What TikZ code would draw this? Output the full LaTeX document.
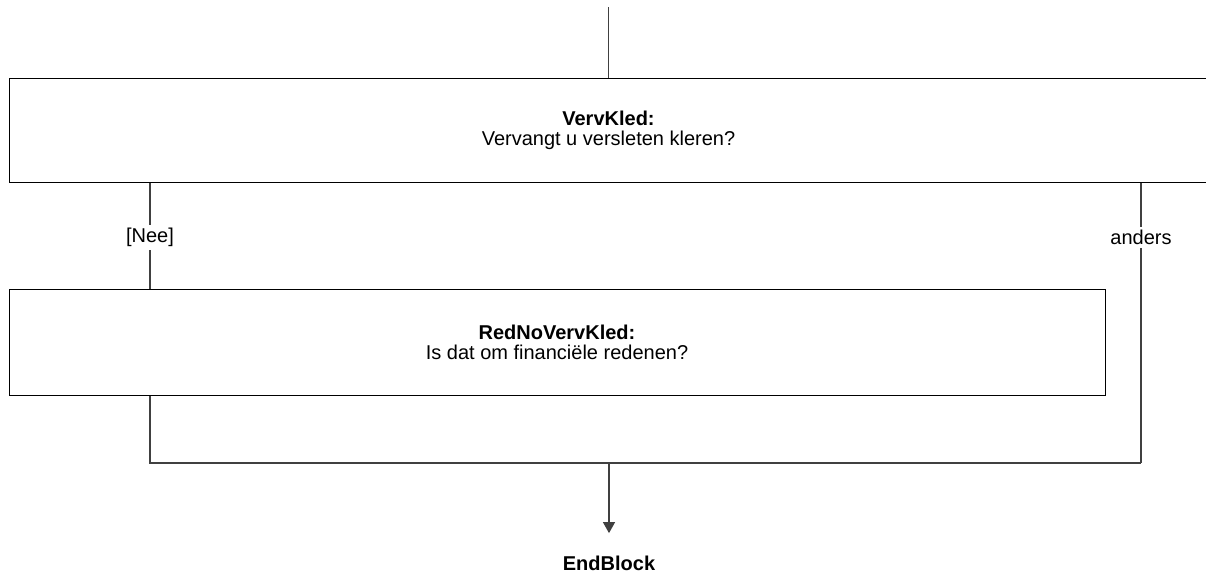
\documentclass[tikz,border=0pt]{standalone}
\usepackage{fontspec}
\setmainfont{Liberation Sans}
\usetikzlibrary{arrows.meta}
\begin{document}
\begin{tikzpicture}[x=1pt,y=-1pt,
  every node/.style={font=\fontsize{20}{20}\selectfont, align=center},
  qbox/.style={draw=black, line width=1pt, rectangle, inner sep=0pt},
  conn/.style={draw=black!75, line width=1.1pt},
  lbl/.style={fill=white, inner sep=3pt},
  arr/.style={conn, -{Triangle[length=11pt,width=12pt]}}]
\useasboundingbox (0,0) rectangle (1206,579);
\node[qbox, minimum width=1199pt, minimum height=104pt] (vk) at (608.5,130) {\textbf{VervKled:}\\Vervangt u versleten kleren?};
\node[qbox, minimum width=1096pt, minimum height=106pt] (rn) at (557,342) {\textbf{RedNoVervKled:}\\Is dat om financiële redenen?};
\coordinate (top) at (608.5,7);
\coordinate (bl) at (150,463);
\coordinate (br) at (1141,463);
\coordinate (join) at (609,463);
\node (end) at (609,563) {\textbf{EndBlock}};
\draw[conn] (top) -- (vk.north);
\draw[conn] (vk.south -| bl) -- node[lbl, pos=0.52] (nee) {[Nee]} (rn.north -| bl);
\draw[conn] (vk.south -| br) -- node[lbl, pos=0.196] (anders) {anders} (br);
\draw[conn] (rn.south -| bl) -- (bl) -- (br);
\draw[arr, shorten >=19pt] (join) -- (end);
\end{tikzpicture}
\end{document}
